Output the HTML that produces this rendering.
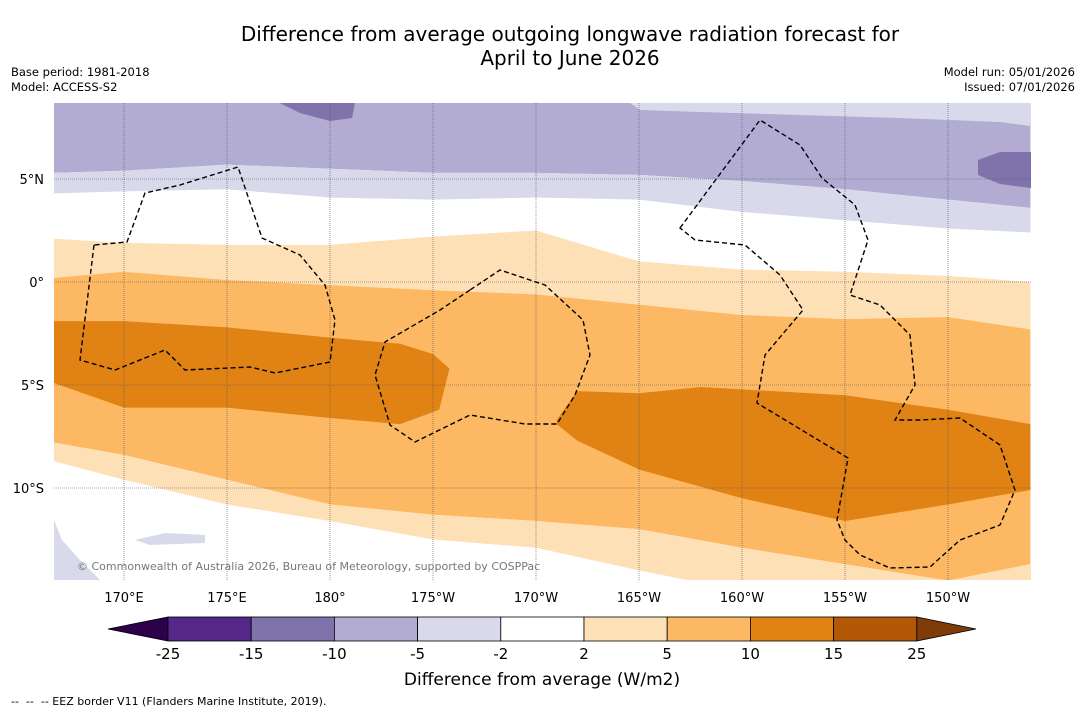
<!DOCTYPE html>
<html><head><meta charset="utf-8">
<style>
body{margin:0;background:#fff;font-family:"Liberation Sans","DejaVu Sans",sans-serif;}
#wrap{position:relative;width:1085px;height:713px;overflow:hidden;background:#fff}
.t{position:absolute;color:#000;white-space:nowrap}
</style></head><body>
<div id="wrap">
<div class="t" style="left:0;width:1140px;top:22px;text-align:center;font-size:20px;line-height:24px;font-family:'DejaVu Sans',sans-serif">Difference from average outgoing longwave radiation forecast for<br>April to June 2026</div>
<div class="t" style="left:11px;top:65px;font-size:11.5px;line-height:15px;font-family:'DejaVu Sans',sans-serif">Base period: 1981-2018<br>Model: ACCESS-S2</div>
<div class="t" style="right:10px;top:65px;font-size:11.5px;line-height:15px;text-align:right;font-family:'DejaVu Sans',sans-serif">Model run: 05/01/2026<br>Issued: 07/01/2026</div>
<div class="t" style="left:11px;top:695px;font-size:11px;font-family:'DejaVu Sans',sans-serif">--&nbsp; --&nbsp; -- EEZ border V11 (Flanders Marine Institute, 2019).</div>
<svg id="svg" width="1085" height="713" style="position:absolute;left:0;top:0" font-family="DejaVu Sans, Liberation Sans, sans-serif"></svg>
</div>
<script>
const lons=[166.6,170,175,180,185,190,195,200,205,210,214];
const b1=[5.3,5.4,5.7,5.5,5.3,5.3,5.2,4.9,4.5,4.0,3.6];
const b2=[4.3,4.4,4.5,4.1,4.0,4.1,4.0,3.4,3.0,2.6,2.4];
const b3=[2.1,1.9,1.8,1.8,2.2,2.5,1.0,0.6,0.5,0.3,0.0];
const b4=[0.2,0.5,0.1,-0.15,-0.4,-0.6,-1.1,-1.6,-1.8,-1.7,-2.3];
const b6=[-7.8,-8.4,-9.6,-10.8,-11.3,-11.6,-12.0,-12.9,-13.7,-14.5,-13.7];
const b7=[-8.7,-9.6,-10.8,-11.6,-12.5,-12.9,-14.0,-15,-15,-15,-15];
const blobLLon=[166.6,170,175,180,183.4,185,185.8,185.3,183.4,180,175,170,166.6];
const blobLLat=[-1.9,-1.9,-2.2,-2.7,-3.0,-3.5,-4.2,-6.2,-6.9,-6.6,-6.1,-6.1,-4.9];
const blobRLon=[191,192,195,198,205,210,214,214,210,205,200,195,192,191];
const blobRLat=[-6.7,-5.3,-5.4,-5.1,-5.5,-6.2,-6.9,-10.1,-10.8,-11.6,-10.5,-9.1,-7.7,-6.9];
const lonTicks=[170,175,180,185,190,195,200,205,210];
const lonLabels=["170°E","175°E","180°","175°W","170°W","165°W","160°W","155°W","150°W"];
const latTicks=[5,0,-5,-10];
const latLabels=["5°N","0°","5°S","10°S"];
const cbLevels=["-25","-15","-10","-5","-2","2","5","10","15","25"];
const cbColors=["#542788","#8073ac","#b2abd2","#d8daeb","#ffffff","#fee0b6","#fdb863","#e08214","#b35806"];
const X0=54,X1=1031,Y0=103,Y1=580;
const x=l=>124+(l-170)*20.6;
const y=a=>282-a*20.6;
const svg=document.getElementById('svg');
const NS='http://www.w3.org/2000/svg';
function mk(t,a,p){const e=document.createElementNS(NS,t);for(const k in a)e.setAttribute(k,a[k]);(p||svg).appendChild(e);return e;}
const clip=mk('clipPath',{id:'mc'});mk('rect',{x:X0,y:Y0,width:X1-X0,height:Y1-Y0},clip);
const g=mk('g',{'clip-path':'url(#mc)'});


function band(top,bot,fill,name){
 let pts=lons.map((l,i)=>x(l)+','+y(top?top[i]:12));
 pts=pts.concat(lons.map((l,i)=>x(l)+','+y(bot?bot[i]:-16)).reverse());
 const p=mk('polygon',{points:pts.join(' '),fill:fill},g);
 
 
}
mk('rect',{x:X0,y:Y0,width:X1-X0,height:Y1-Y0,fill:'#fff'},g);
band(null,b1,'#b2abd2','band-neg10');
band(b1,b2,'#d8daeb','band-neg5');
band(b3,b4,'#fee0b6','band-pos2-north');
band(b4,b6,'#fdb863','band-pos5');
band(b6,b7,'#fee0b6','band-pos2-south');
function poly(lo,la,fill,name){
 const p=mk('polygon',{points:lo.map((l,i)=>x(l)+','+y(la[i])).join(' '),fill:fill},g);
 
 
}
poly(blobLLon,blobLLat,'#e08214','band-pos10-west');
poly(blobRLon,blobRLat,'#e08214','band-pos10-east');
mk('path',{d:'M280,103 L355,103 L352,118 L330,121 L300,113 Z',fill:'#8073ac'},g);
mk('path',{d:'M978,160 L1000,152 L1031,152 L1031,188 L1000,184 L978,175 Z',fill:'#8073ac'},g);
mk('path',{d:'M630,103 L1031,103 L1031,126 L1000,122 L900,118 L800,115 L700,112 L640,110 Z',fill:'#d8daeb'},g);
mk('path',{d:'M54,520 L62,540 L80,560 L100,580 L54,580 Z',fill:'#d8daeb'},g);
mk('path',{d:'M135,540 L165,533 L205,535 L205,543 L150,545 Z',fill:'#d8daeb'},g);
mk('path',{d:'M990,580 L1000,570 L1031,565 L1031,580 Z',fill:'#fee0b6'},g);
lonTicks.forEach(l=>mk('line',{x1:x(l),x2:x(l),y1:Y0,y2:Y1,stroke:'#555','stroke-width':0.6,'stroke-dasharray':'1,1'},g));
latTicks.forEach(a=>mk('line',{x1:X0,x2:X1,y1:y(a),y2:y(a),stroke:'#555','stroke-width':0.6,'stroke-dasharray':'1,1'},g));
const eez=[
"M94,245 L80,360 L115,370 L165,350 L185,370 L250,367 L275,373 L330,362 L335,320 L325,285 L300,255 L262,238 L238,167 L180,185 L145,193 L127,242 Z",
"M470,290 L440,310 L385,342 L375,375 L390,425 L415,442 L470,415 L525,424 L557,424 L575,395 L590,355 L583,320 L545,285 L500,270 Z",
"M680,228 L760,120 L800,145 L822,178 L855,205 L868,240 L850,295 L880,305 L910,335 L915,385 L895,420 L920,420 L960,418 L1000,445 L1015,490 L1000,525 L960,540 L930,567 L890,568 L860,555 L845,540 L837,520 L848,458 L757,403 L765,355 L803,310 L780,275 L745,245 L695,240 Z"];
eez.forEach((d,i)=>{const p=mk('path',{d:d,fill:'none',stroke:'#000','stroke-width':1.4,'stroke-dasharray':'5,3'},g);
 
 });
const cr=mk('text',{x:77,y:570,'font-size':11,fill:'#777'},g);cr.textContent='© Commonwealth of Australia 2026, Bureau of Meteorology, supported by COSPPac';


lonTicks.forEach((l,i)=>{const t=mk('text',{x:x(l),y:602,'font-size':13,'text-anchor':'middle'});t.textContent=lonLabels[i];
 
 });
latTicks.forEach((a,i)=>{const t=mk('text',{x:44,y:y(a)+5,'font-size':13,'text-anchor':'end'});t.textContent=latLabels[i];
 
 });
const cx0=168,cw=83.2,cy=617,ch=24;
mk('polygon',{points:`108,${cy+ch/2} ${cx0},${cy} ${cx0},${cy+ch}`,fill:'#2d004b',stroke:'#000','stroke-width':0.8});
cbColors.forEach((c,i)=>{const r=mk('rect',{x:cx0+i*cw,y:cy,width:cw,height:ch,fill:c,stroke:'#000','stroke-width':0.8});
 
 });
const ce=cx0+cbColors.length*cw;
mk('polygon',{points:`${ce},${cy} ${976},${cy+ch/2} ${ce},${cy+ch}`,fill:'#7f3b08',stroke:'#000','stroke-width':0.8});
cbLevels.forEach((v,i)=>{const t=mk('text',{x:cx0+i*cw,y:659,'font-size':15,'text-anchor':'middle'});t.textContent=v;
 
 });
const ct=mk('text',{x:542,y:685,'font-size':17,'text-anchor':'middle'});ct.textContent='Difference from average (W/m2)';


</script>
</body></html>
